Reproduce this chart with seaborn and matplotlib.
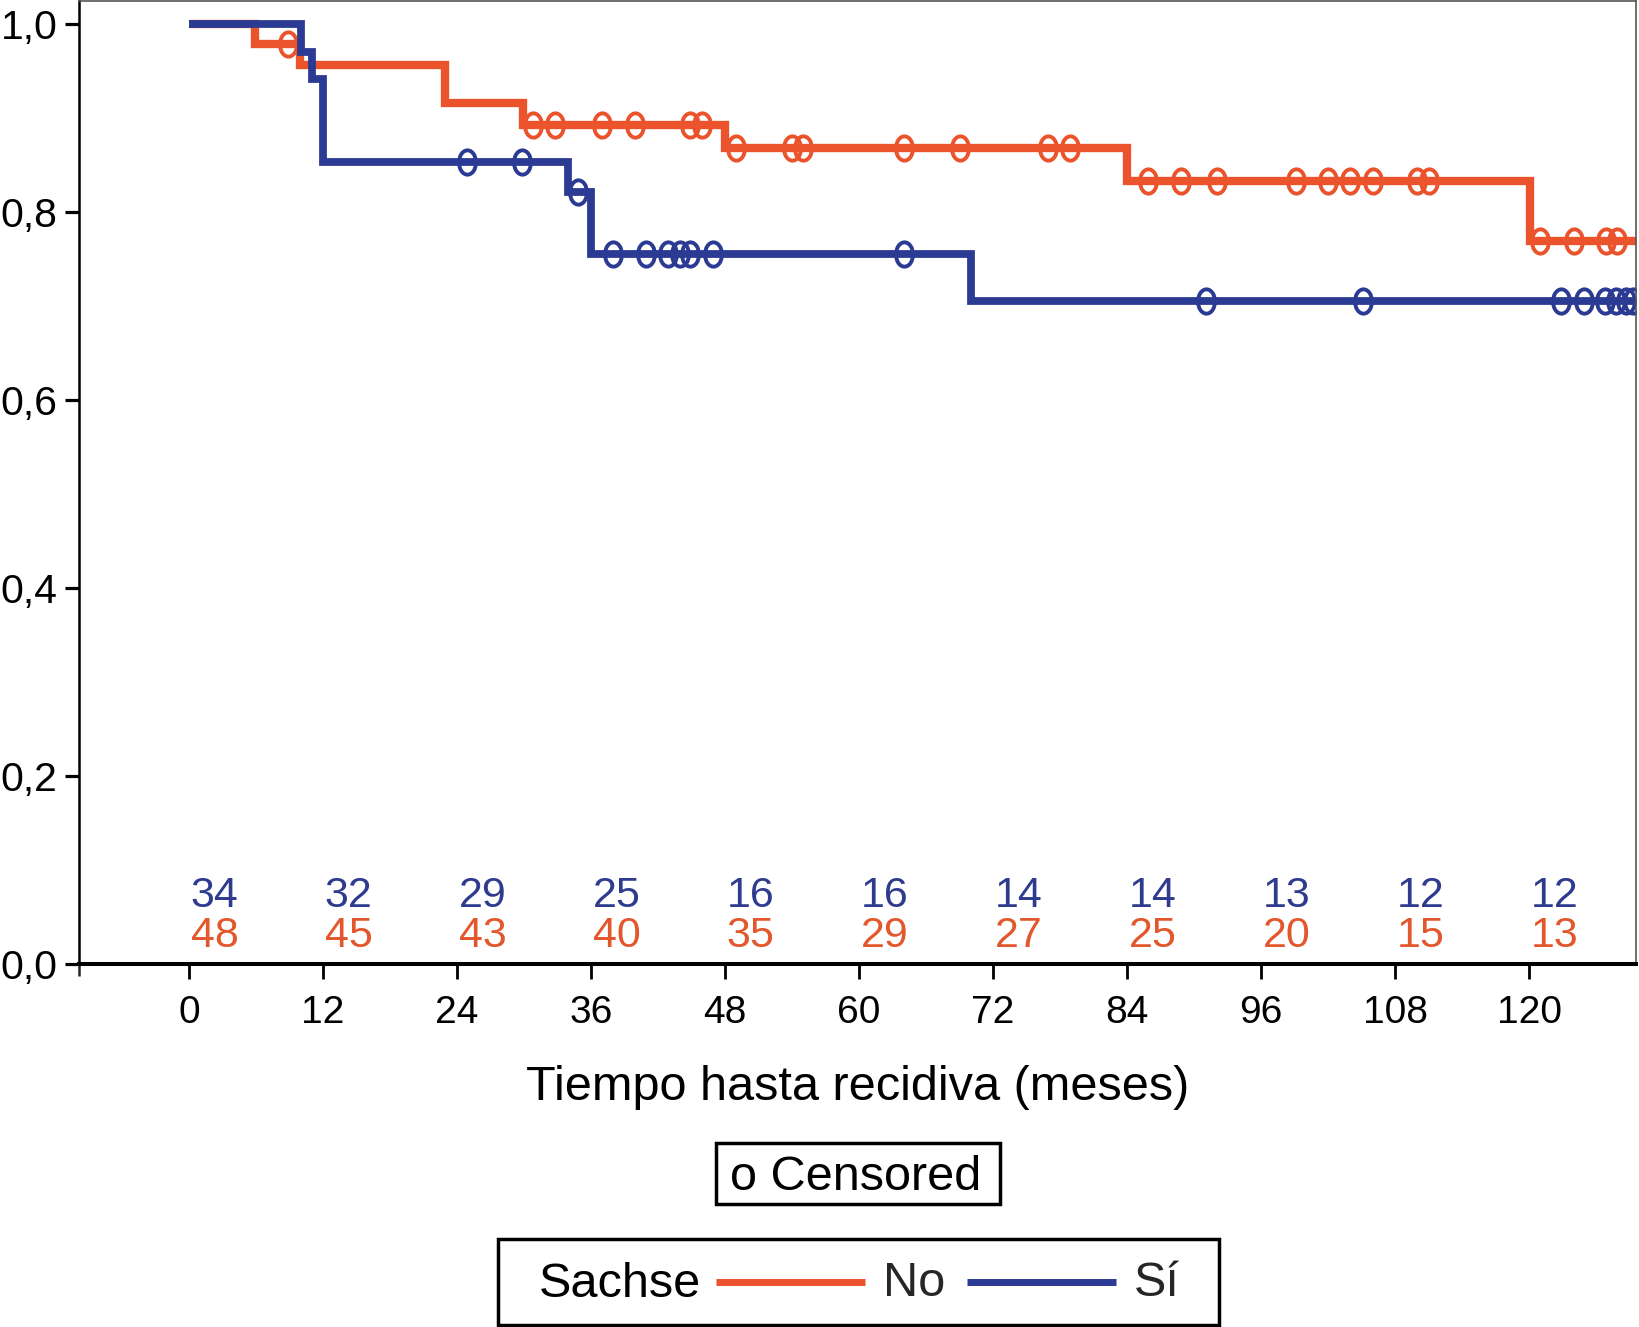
import numpy as np
import pandas as pd
import matplotlib
matplotlib.use("Agg")
import matplotlib.pyplot as plt
import seaborn as sns
from matplotlib.path import Path
from matplotlib.transforms import Affine2D
from matplotlib.patches import Rectangle
from matplotlib.lines import Line2D

# ---------------- data ----------------
# Kaplan-Meier step curves: time of each step (months) and survival after it
no_times = [0.0, 5.9, 9.9, 22.9, 29.9, 48.0, 84.0, 120.1, 129.6]
no_surv = [1.0, 0.979, 0.956, 0.9155, 0.8925, 0.868, 0.833, 0.769, 0.769]
si_times = [0.0, 10.0, 11.0, 12.0, 33.9, 36.0, 70.0, 129.6]
si_surv = [1.0, 0.9706, 0.9412, 0.853, 0.8214, 0.7557, 0.7053, 0.7053]

# censored observations (months)
no_censor = [8.9, 30.8, 32.8, 37.0, 39.9, 44.9, 45.9, 49.0, 54.0, 55.0,
             64.0, 69.0, 76.9, 78.9, 85.9, 88.8, 92.1, 99.1, 102.0, 104.0,
             106.0, 110.0, 111.0, 121.0, 124.0, 126.9, 127.9]
si_censor = [24.9, 29.8, 34.8, 38.0, 40.9, 42.9, 44.0, 44.9, 46.9, 64.0,
             91.1, 105.1, 122.9, 124.9, 126.8, 127.8, 128.7, 129.3]

# numbers at risk
risk_times = [0, 12, 24, 36, 48, 60, 72, 84, 96, 108, 120]
risk_si = [34, 32, 29, 25, 16, 16, 14, 14, 13, 12, 12]
risk_no = [48, 45, 43, 40, 35, 29, 27, 25, 20, 15, 13]

x_ticks = [0, 12, 24, 36, 48, 60, 72, 84, 96, 108, 120]
x_tick_labels = ["0", "12", "24", "36", "48", "60", "72", "84", "96", "108", "120"]
y_ticks = [0.0, 0.2, 0.4, 0.6, 0.8, 1.0]
y_tick_labels = ["0,0", "0,2", "0,4", "0,6", "0,8", "1,0"]

x_label = "Tiempo hasta recidiva (meses)"
group_title = "Sachse"
group_labels = ["No", "Sí"]
censor_label = "o Censored"

RED = "#EA532B"
BLUE = "#2B3A92"
RED_TXT = "#E2572C"
BLUE_TXT = "#2E3B8E"

# ---------------- style ----------------
sns.set_theme(style="ticks")
plt.rcParams["font.family"] = ["Liberation Sans", "DejaVu Sans"]

W, H = 1640, 1327
fig = plt.figure(figsize=(W / 100, H / 100), dpi=100)
fig.patch.set_facecolor("white")

ax_left, ax_right, ax_top, ax_bottom = 79.5, 1636.0, 1.0, 963.5
ax = fig.add_axes([ax_left / W, 1 - ax_bottom / H,
                   (ax_right - ax_left) / W, (ax_bottom - ax_top) / H])
ax.set_facecolor("white")


def step_lookup(t, times, surv):
    idx = np.searchsorted(times, t, side="right") - 1
    return np.asarray(surv)[idx]


def curve_df(times, surv):
    return pd.DataFrame({"t": times, "s": surv})


def censor_df(cens, times, surv):
    return pd.DataFrame({"t": cens, "s": step_lookup(np.asarray(cens), times, surv)})


ellipse = Path.unit_circle().transformed(Affine2D().scale(0.70, 1.0))

for times, surv, cens, col, lw in [
    (no_times, no_surv, no_censor, RED, 6.0),
    (si_times, si_surv, si_censor, BLUE, 5.6),
]:
    sns.lineplot(data=curve_df(times, surv), x="t", y="s", ax=ax,
                 color=col, linewidth=lw, drawstyle="steps-post",
                 estimator=None, sort=False,
                 solid_joinstyle="miter", solid_capstyle="butt")
    sns.lineplot(data=censor_df(cens, times, surv), x="t", y="s", ax=ax,
                 color=col, linestyle="", marker=ellipse, markersize=17.5,
                 markerfacecolor="none", markeredgecolor=col,
                 markeredgewidth=2.8, estimator=None, sort=False)

# numbers at risk inside the plot
for t, nsi, nno in zip(risk_times, risk_si, risk_no):
    ax.text(t + 0.15, 0.0601, str(nsi), color=BLUE_TXT, fontsize=31,
            ha="left", va="baseline")
    ax.text(t + 0.15, 0.0176, str(nno), color=RED_TXT, fontsize=31,
            ha="left", va="baseline")

# axes limits / ticks
xmin, xmax = -9.806, 129.58
ax.set_xlim(xmin, xmax)
ax.set_ylim(0.0, 1.0245)
ax.set_xticks(x_ticks)
ax.set_xticklabels(x_tick_labels)
ax.set_xticks([xmin], minor=True)
ax.set_yticks(y_ticks)
ax.set_yticklabels(y_tick_labels)

ax.tick_params(axis="x", which="major", direction="out", length=11, width=2.0,
               pad=11.5, labelsize=28, colors="black")
ax.tick_params(axis="x", which="minor", direction="out", length=8.6, width=1.8,
               labelbottom=False)
ax.tick_params(axis="y", which="major", direction="out", length=10, width=2.3,
               pad=6, labelsize=29.5, colors="black")

ax.spines["left"].set_linewidth(1.8)
ax.spines["left"].set_color("black")
ax.spines["bottom"].set_linewidth(2.9)
ax.spines["bottom"].set_color("black")
for s in ("top", "right"):
    ax.spines[s].set_visible(True)
    ax.spines[s].set_linewidth(1.2)
    ax.spines[s].set_color("#555555")

ax.set_xlabel(x_label, fontsize=35, color="black")
ax.set_ylabel("")
ax.xaxis.label.set_va("baseline")
ax.xaxis.set_label_coords(0.5, (ax_bottom - 1100.0) / (ax_bottom - ax_top))

# ---------------- "o Censored" box ----------------
fig.add_artist(Rectangle((716.5 / W, 1 - 1204.0 / H), (1000.0 - 716.5) / W,
                         (1204.0 - 1142.5) / H, transform=fig.transFigure,
                         fill=False, edgecolor="black", linewidth=2.5))
fig.text(730.0 / W, 1 - 1190.0 / H, censor_label, fontsize=35,
         ha="left", va="baseline", color="black")

# ---------------- group legend box ----------------
fig.add_artist(Rectangle((498.0 / W, 1 - 1325.0 / H), (1219.0 - 498.0) / W,
                         (1325.0 - 1238.5) / H, transform=fig.transFigure,
                         fill=False, edgecolor="black", linewidth=2.5))
fig.text(539.0 / W, 1 - 1297.0 / H, group_title, fontsize=35,
         ha="left", va="baseline", color="black")
handles = [Line2D([], [], color=RED, linewidth=5.0, solid_capstyle="butt"),
           Line2D([], [], color=BLUE, linewidth=5.0, solid_capstyle="butt")]
fig.legend(handles=handles, labels=group_labels, ncol=2, frameon=False,
           fontsize=35, loc="center left",
           bbox_to_anchor=(716.5 / W, 1 - 1283.0 / H),
           handlelength=3.05, handletextpad=0.38, columnspacing=0.45,
           borderpad=0.0, borderaxespad=0.0, handleheight=0.2)

fig.savefig("out.png", dpi=100, facecolor="white")
